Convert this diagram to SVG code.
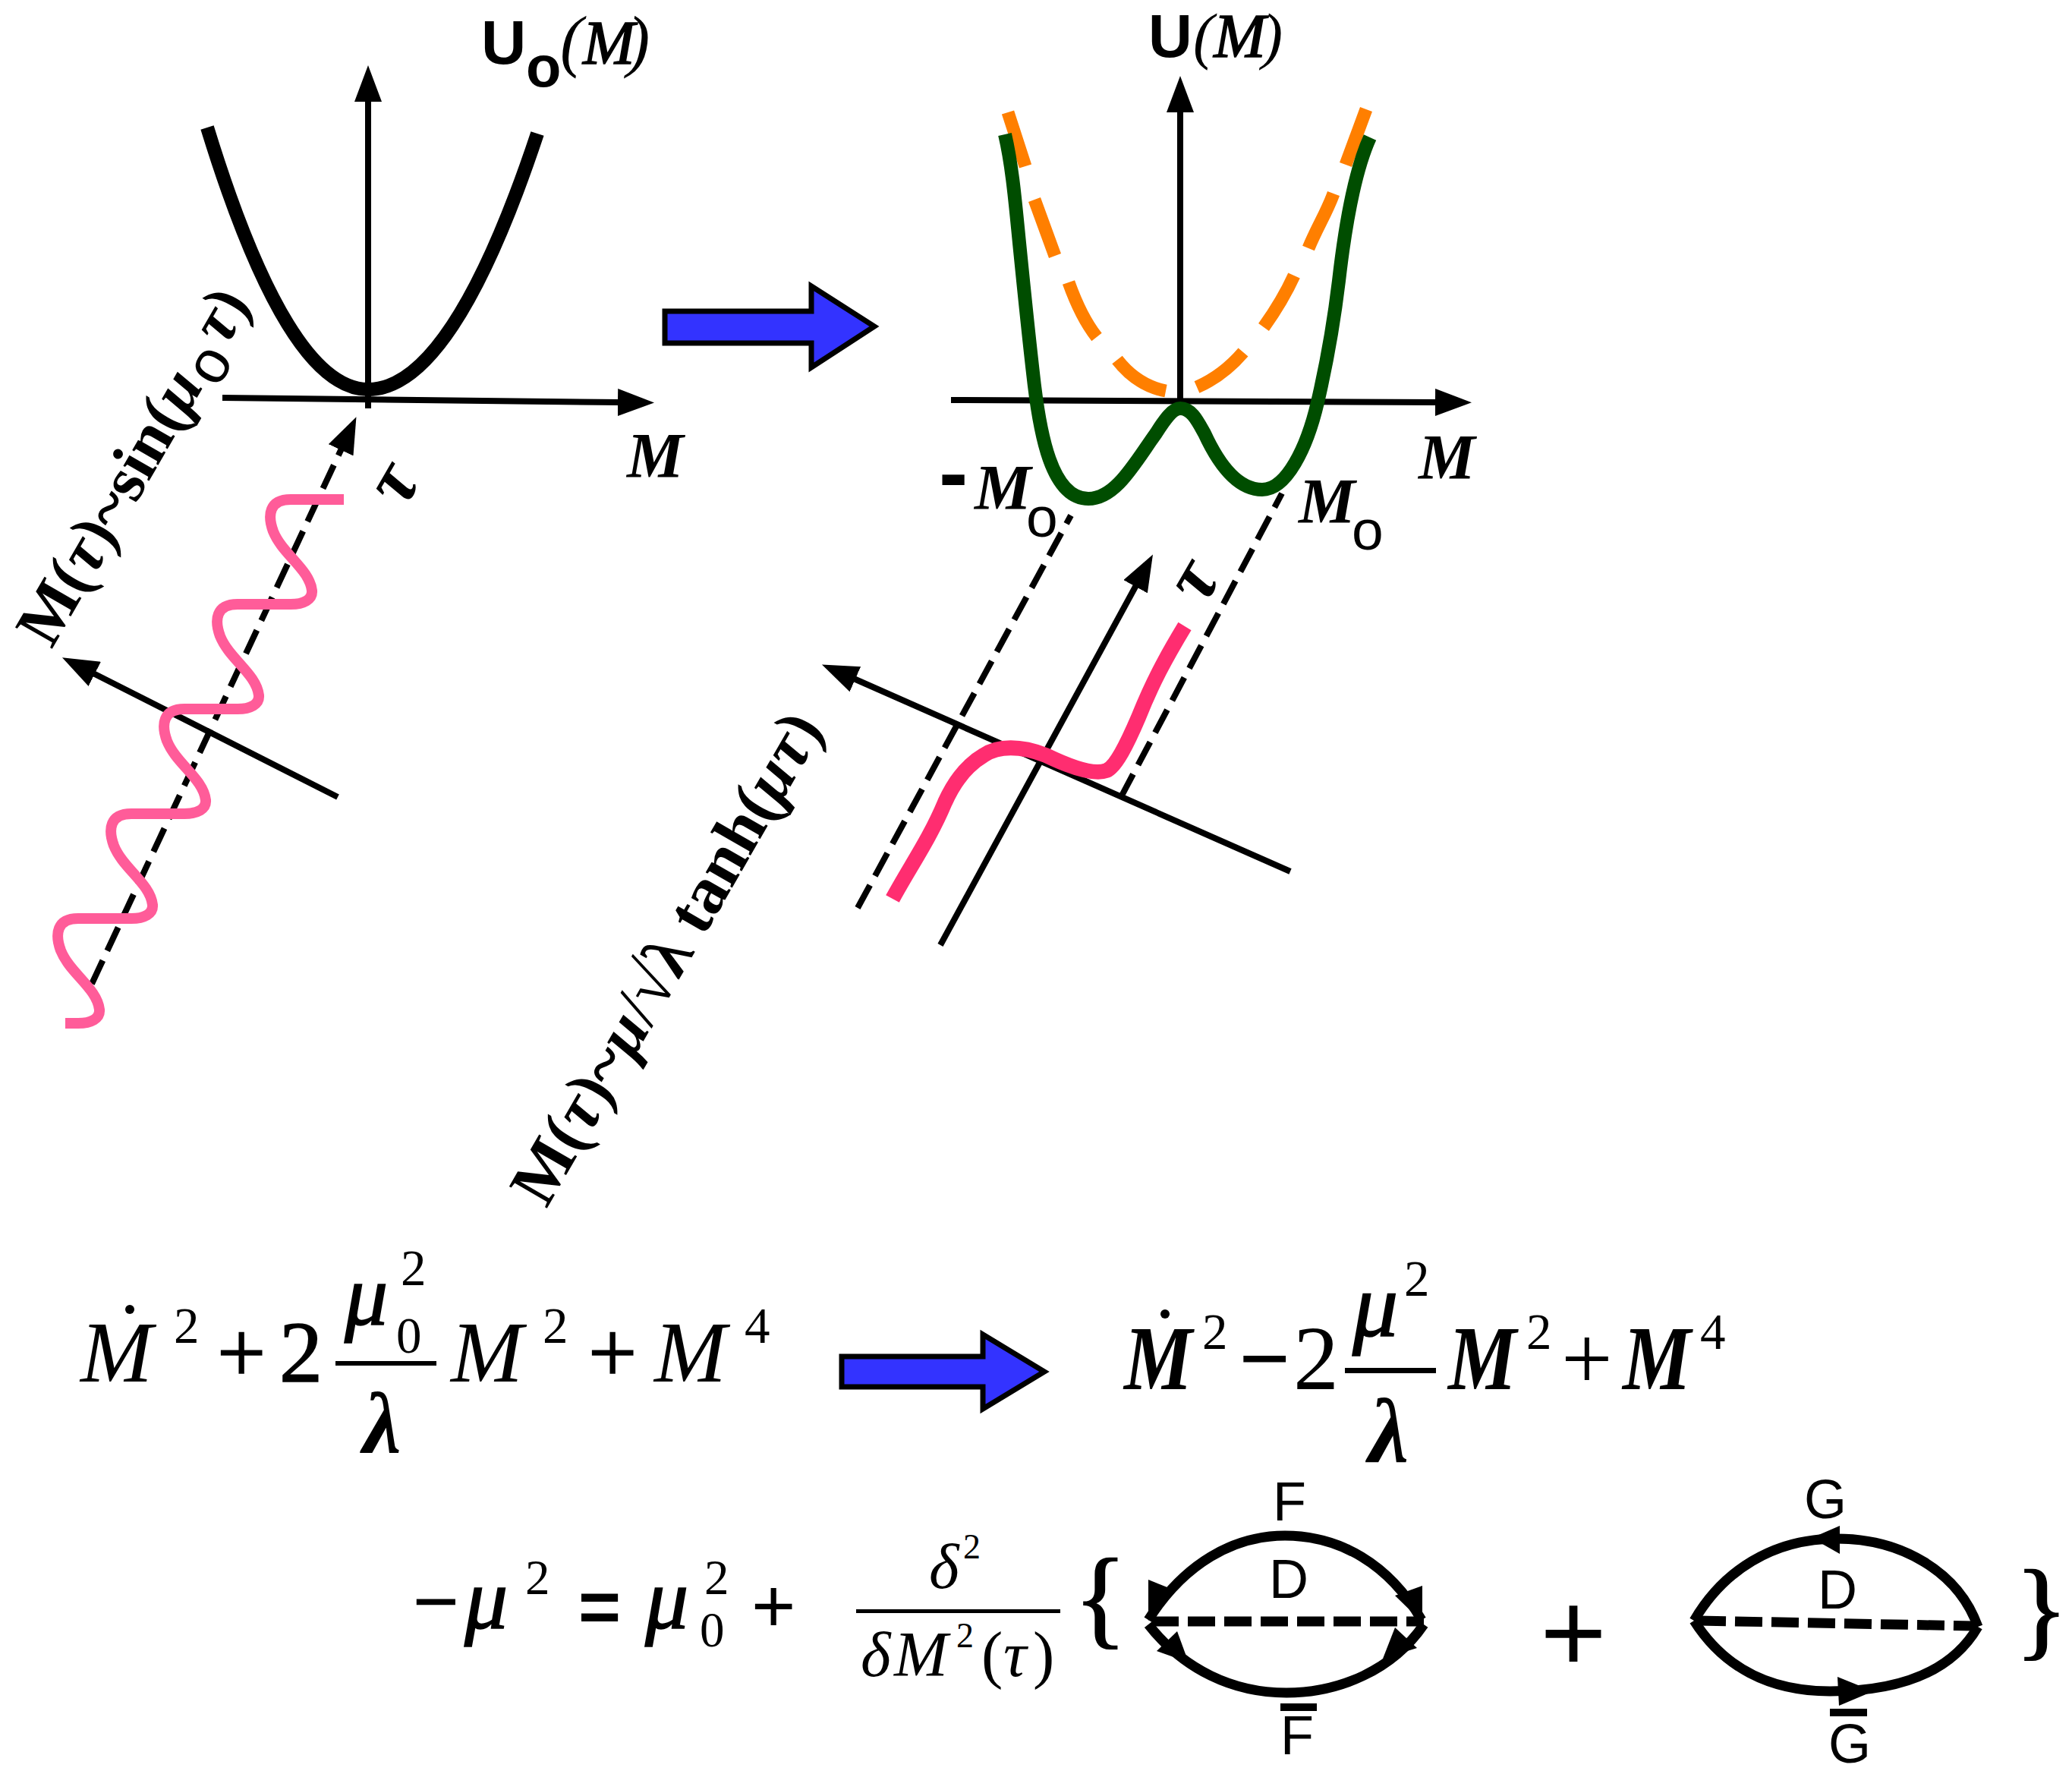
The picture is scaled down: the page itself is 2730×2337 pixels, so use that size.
<svg xmlns="http://www.w3.org/2000/svg" width="2730" height="2337" viewBox="0 0 2730 2337">
<style>
text{fill:#000}
.s{font-family:"Liberation Serif","Times New Roman",serif}
.a{font-family:"Liberation Sans",Arial,sans-serif}
.bi{font-family:"Liberation Serif","Times New Roman",serif;font-weight:bold;font-style:italic}
.bu{font-family:"Liberation Serif","Times New Roman",serif;font-weight:bold}
.i{font-family:"Liberation Serif","Times New Roman",serif;font-style:italic}
.h{stroke:#000;stroke-width:1.6}
.ax{fill:none;stroke:#000;stroke-width:8}
.ds{fill:none;stroke:#000;stroke-width:8;stroke-dasharray:34 14}
.big{fill:#3333ff;stroke:#000;stroke-width:7}
.lp{fill:none;stroke:#000;stroke-width:13}
.ld{fill:none;stroke:#000;stroke-width:13;stroke-dasharray:36 12}
.bar{fill:#000}
</style>
<defs>
<marker id="ah" markerUnits="userSpaceOnUse" markerWidth="50" markerHeight="36" viewBox="0 0 50 36" refX="2" refY="18" orient="auto"><polygon points="0,0 48,18 0,36" fill="#000"/></marker>
</defs>
<g id="connectors">
<line class="ax" x1="485" y1="538" x2="485" y2="132" marker-end="url(#ah)"/>
<line class="ax" x1="293" y1="524" x2="816" y2="530" marker-end="url(#ah)"/>
<line class="ds" x1="121" y1="1296" x2="450" y2="591" marker-end="url(#ah)"/>
<line class="ax" x1="445" y1="1050" x2="123" y2="887" marker-end="url(#ah)"/>
<line class="ax" x1="1555" y1="537" x2="1555" y2="146" marker-end="url(#ah)"/>
<line class="ax" x1="1253" y1="527" x2="1893" y2="530" marker-end="url(#ah)"/>
<line class="ax" x1="1239" y1="1245" x2="1497" y2="771" marker-end="url(#ah)"/>
<line class="ax" x1="1700" y1="1148" x2="1125" y2="894" marker-end="url(#ah)"/>
<line class="ds" x1="1130" y1="1196" x2="1411" y2="679"/>
<line class="ds" x1="1477" y1="1050" x2="1689" y2="650"/>
</g>
<g id="curve-parabola"><path d="M273 168Q379 513 485 513Q596 513 708 176" fill="none" stroke="#000" stroke-width="18"/></g>
<g id="curve-orange"><path d="M1328 148L1351 219M1363 263L1390 337M1408 372C1418 400 1430 425 1445 444M1472 474C1490 497 1510 510 1536 515M1577 510C1600 500 1620 485 1638 464M1665 431C1680 410 1695 385 1705 363M1724 327C1735 300 1748 280 1757 255M1773 217L1800 144" fill="none" stroke="#ff7f00" stroke-width="17"/></g>
<g id="curve-green"><path d="M1324 177C1334 220 1338 270 1343 320C1350 390 1355 440 1362 500C1370 570 1385 657 1434 657C1470 657 1495 610 1523 571C1535 552 1545 538 1555 538C1570 538 1578 555 1587 571C1605 610 1630 645 1663 645C1695 645 1722 590 1736 530C1750 470 1758 420 1764 370C1772 300 1785 225 1805 181" fill="none" stroke="#004d00" stroke-width="18"/></g>
<g id="curve-sine"><path id="sn" d="M453 658H383C355 658 352 678 360 700C372 730 408 750 411 778C412 790 400 796 383 796H313C285 796 282 816 290 838C302 868 338 888 341 916C342 928 330 934 313 934H243C215 934 212 954 220 976C232 1006 268 1026 271 1054C272 1066 260 1072 243 1072H173C145 1072 142 1092 150 1114C162 1144 198 1164 201 1192C202 1204 190 1210 173 1210H103C75 1210 72 1230 80 1252C92 1282 128 1302 131 1330C132 1342 120 1348 103 1348H86" fill="none" stroke="#ff5c99" stroke-width="14"/></g>
<g id="curve-kink"><path d="M1561 825C1535 868 1518 900 1500 945C1485 980 1470 1010 1458 1015C1440 1022 1405 1008 1378 995C1345 982 1315 982 1296 995C1270 1010 1255 1035 1245 1057C1225 1105 1200 1140 1176 1184" fill="none" stroke="#ff2d70" stroke-width="20"/></g>
<g id="arrow-top"><polygon class="big" points="876,410 1069,410 1069,377 1152,430 1069,484 1069,452 876,452"/></g>
<g id="arrow-eq"><polygon class="big" points="1109,1787 1295,1787 1295,1758 1376,1807 1295,1856 1295,1827 1109,1827"/></g>
<g id="label-u0">
<text class="a" font-weight="bold" font-size="82" x="634" y="84">U</text>
<text class="a" font-weight="bold" font-size="76" x="693" y="114">o</text>
<text class="i" font-size="90" x="738" y="84">(<tspan class="h" font-size="82">M</tspan><tspan dx="-10">)</tspan></text>
</g>
<g id="label-u">
<text class="a" font-weight="bold" font-size="80" x="1513" y="75">U</text>
<text class="i" font-size="82" x="1572" y="75">(<tspan class="h">M</tspan><tspan dx="-5">)</tspan></text>
</g>
<g id="labels-axis">
<text class="bi" font-size="84" x="826" y="629">M</text>
<text class="bi" font-size="84" x="1869" y="631">M</text>
<text class="bi" font-size="100" transform="translate(533,671) rotate(-60)">τ</text>
<text class="bi" font-size="100" transform="translate(1587,799) rotate(-60)">τ</text>
<text class="a" font-weight="bold" font-size="115" x="1237" y="662">-</text>
<text class="bi" font-size="84" x="1284" y="671">M</text>
<text class="a" font-size="75" x="1352" y="707">o</text>
<text class="bi" font-size="84" x="1711" y="689">M</text>
<text class="a" font-size="75" x="1781" y="724">o</text>
</g>
<g id="label-sin"><text class="bu" font-size="86" transform="translate(68,856) rotate(-60)">M(<tspan class="bi">τ</tspan>)~sin(<tspan class="bi">μ</tspan><tspan class="a" font-weight="normal" font-size="80" dx="4" dy="18">o</tspan><tspan class="bi" dx="8" dy="-18">τ</tspan>)</text></g>
<g id="label-tanh"><text class="bu" font-size="88" transform="translate(720,1593) rotate(-60)">M(<tspan class="bi">τ</tspan>)~<tspan class="bi">μ</tspan><tspan font-weight="normal">/√</tspan>λ tanh(<tspan class="bi">μτ</tspan>)</text></g>
<g id="eq-left">
<circle cx="171" cy="1725" r="6"/>
<text class="i" font-size="114" x="106" y="1820">M</text>
<text class="s" font-size="67" x="229" y="1769">2</text>
<text class="s h" font-size="114" x="286" y="1820">+</text>
<text class="s h" font-size="114" x="368" y="1820">2</text>
<text class="i h" font-size="114" x="454" y="1745">μ</text>
<text class="s" font-size="67" x="522" y="1782">0</text>
<text class="s" font-size="67" x="528" y="1693">2</text>
<rect class="bar" x="442" y="1793" width="133" height="6"/>
<text class="bi" font-size="114" x="478" y="1913">λ</text>
<text class="i" font-size="114" x="594" y="1820">M</text>
<text class="s" font-size="67" x="715" y="1769">2</text>
<text class="s h" font-size="114" x="775" y="1820">+</text>
<text class="i" font-size="114" x="862" y="1820">M</text>
<text class="s" font-size="67" x="981" y="1769">4</text>
</g>
<g id="eq-right">
<circle cx="1535" cy="1731" r="6"/>
<text class="bi" font-size="120" x="1481" y="1830" textLength="90" lengthAdjust="spacingAndGlyphs">M</text>
<text class="s" font-size="67" x="1584" y="1777">2</text>
<text class="bu" font-size="120" x="1632" y="1830">−</text>
<text class="s" font-size="120" x="1704" y="1830">2</text>
<text class="i h" font-size="120" x="1782" y="1760">μ</text>
<text class="s" font-size="67" x="1850" y="1707">2</text>
<rect class="bar" x="1772" y="1802" width="120" height="7"/>
<text class="bi" font-size="120" x="1803" y="1926">λ</text>
<text class="bi" font-size="120" x="1908" y="1830" textLength="90" lengthAdjust="spacingAndGlyphs">M</text>
<text class="s" font-size="67" x="2011" y="1777">2</text>
<text class="s" font-size="120" x="2057" y="1830">+</text>
<text class="bi" font-size="120" x="2138" y="1830" textLength="90" lengthAdjust="spacingAndGlyphs">M</text>
<text class="s" font-size="67" x="2240" y="1777">4</text>
</g>
<g id="eq-mass">
<text class="bu" font-size="110" x="543" y="2147">−</text>
<text class="i h" font-size="114" x="612" y="2145">μ</text>
<text class="s" font-size="65" x="692" y="2100">2</text>
<text class="a" font-weight="bold" font-size="96" x="762" y="2150">=</text>
<text class="i h" font-size="114" x="850" y="2145">μ</text>
<text class="s" font-size="65" x="928" y="2100">2</text>
<text class="s" font-size="65" x="922" y="2169">0</text>
<text class="a" font-size="100" x="990" y="2150">+</text>
<text class="i" font-size="85" x="1224" y="2092">δ</text>
<text class="s" font-size="46" x="1269" y="2053">2</text>
<rect class="bar" x="1128" y="2120" width="269" height="5"/>
<text class="i" font-size="85" x="1134" y="2208">δ</text>
<text class="i" font-size="85" x="1178" y="2208">M</text>
<text class="s" font-size="46" x="1260" y="2170">2</text>
<text class="s" font-size="85" x="1293" y="2208">(</text>
<text class="i" font-size="85" x="1322" y="2208">τ</text>
<text class="s" font-size="85" x="1361" y="2208">)</text>
<text class="s h" style="stroke-width:2" font-size="145" x="1415" y="2153">{</text>
<text class="s h" style="stroke-width:2" font-size="145" x="2655" y="2168">}</text>
</g>
<g id="diagram-f">
<path class="lp" d="M1513 2134C1560 2060 1625 2023 1693 2023C1765 2023 1830 2060 1873 2134"/>
<path class="lp" d="M1513 2140C1560 2200 1625 2230 1695 2230C1765 2230 1835 2200 1876 2140"/>
<line class="ld" x1="1517" y1="2136" x2="1876" y2="2136"/>
<polygon points="1513,2135 1513,2081 1548,2095"/>
<polygon points="1874,2137 1874,2089 1838,2102"/>
<polygon points="1551,2149 1524,2175 1566,2190"/>
<polygon points="1838,2144 1867,2171 1822,2185"/>
<text class="a" font-size="72" x="1677" y="2003">F</text>
<text class="a" font-size="72" x="1672" y="2105">D</text>
<rect class="bar" x="1687" y="2244" width="48" height="10"/>
<text class="a" font-size="72" x="1687" y="2311">F</text>
</g>
<g id="diagram-g">
<text class="a" font-size="150" x="2073" y="2202" text-anchor="middle">+</text>
<path class="lp" d="M2232 2135C2270 2070 2335 2027 2420 2027C2505 2027 2580 2070 2606 2143"/>
<path class="lp" d="M2232 2135C2270 2195 2330 2228 2411 2228C2500 2228 2570 2205 2606 2143"/>
<line class="ld" x1="2238" y1="2135" x2="2600" y2="2142"/>
<polygon points="2387,2026 2424,2010 2424,2047"/>
<polygon points="2468,2228 2421,2209 2423,2247"/>
<text class="a" font-size="72" x="2377" y="2000">G</text>
<text class="a" font-size="72" x="2395" y="2119">D</text>
<rect class="bar" x="2411" y="2251" width="49" height="10"/>
<text class="a" font-size="72" x="2409" y="2322">G</text>
</g>
</svg>
